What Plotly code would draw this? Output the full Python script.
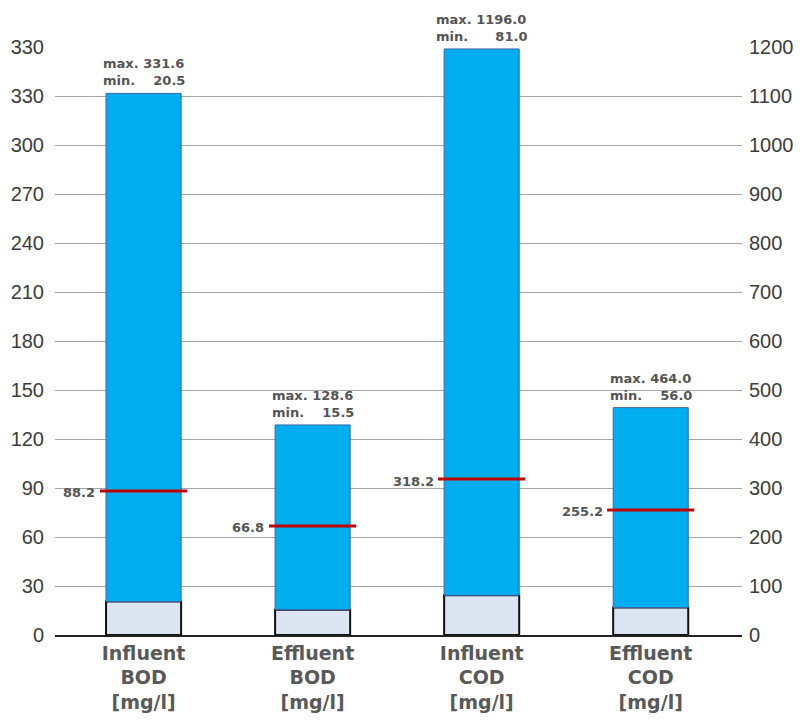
import plotly.graph_objects as go

categories = ["Influent<br>BOD<br>[mg/l]", "Effluent<br>BOD<br>[mg/l]",
              "Influent<br>COD<br>[mg/l]", "Effluent<br>COD<br>[mg/l]"]
axis_of = ["y", "y", "y2", "y2"]
max_vals = [331.6, 128.6, 1196.0, 464.0]
min_vals = [20.5, 15.5, 81.0, 56.0]
avg_vals = [88.2, 66.8, 318.2, 255.2]

left_ticks = [0, 30, 60, 90, 120, 150, 180, 210, 240, 270, 300, 330, 360]
left_ticktext = ["0", "30", "60", "90", "120", "150", "180", "210", "240", "270", "300", "330", "330"]
right_ticks = [0, 100, 200, 300, 400, 500, 600, 700, 800, 900, 1000, 1100, 1200]

BLUE = "#00AEEF"
LIGHT = "#DCE6F2"
RED = "#C00000"
GRAY = "#555555"
FONT = "Liberation Sans, Arial, sans-serif"
WIDE = "DejaVu Sans, Verdana, sans-serif"
NB = "\u00a0"

xs = list(range(len(categories)))
bar_w = 0.444
line_half = 0.258

fig = go.Figure()

for i in xs:
    ax = axis_of[i]
    fig.add_trace(go.Bar(
        x=[i], y=[min_vals[i]], base=[0], width=bar_w, yaxis=ax,
        marker=dict(color=LIGHT, line=dict(color="#111111", width=2)),
        showlegend=False, hoverinfo="skip"))
    fig.add_trace(go.Bar(
        x=[i], y=[max_vals[i] - min_vals[i]], base=[min_vals[i]], width=bar_w, yaxis=ax,
        marker=dict(color=BLUE, line=dict(color="#3A62A8", width=1)),
        showlegend=False, hoverinfo="skip"))
    fig.add_trace(go.Scatter(
        x=[i - line_half, i + line_half], y=[avg_vals[i], avg_vals[i]], yaxis=ax,
        mode="lines", line=dict(color=RED, width=3),
        showlegend=False, hoverinfo="skip"))

annotations = []
for i in xs:
    ax = axis_of[i]
    mx = f"{max_vals[i]:.1f}"
    mn = f"{min_vals[i]:.1f}"
    pad = NB * (2 + 2 * (len(mx) - len(mn)))
    annotations.append(dict(
        x=i - line_half - 0.015, y=avg_vals[i], xref="x", yref=ax,
        text=f"<b>{avg_vals[i]:.1f}</b>", showarrow=False,
        xanchor="right", yanchor="middle", yshift=-2,
        font=dict(family=WIDE, size=13, color=GRAY)))
    annotations.append(dict(
        x=i, y=max_vals[i], xref="x", yref=ax,
        text=f"<b>max.{NB}{mx}</b><br><b>min.{pad}{mn}</b>", showarrow=False, align="left",
        xanchor="center", yanchor="bottom", yshift=3,
        font=dict(family=WIDE, size=13, color=GRAY)))

tick_text_x = ["<b>" + c.replace("<br>", "</b><br><b>") + "</b>" for c in categories]

fig.update_layout(
    width=804, height=721,
    margin=dict(l=55, r=62, t=47, b=86),
    paper_bgcolor="white", plot_bgcolor="white",
    barmode="overlay",
    font=dict(family=FONT, color="#404040"),
    annotations=annotations,
    xaxis=dict(
        range=[-0.524, 3.54], tickmode="array", tickvals=xs, ticktext=tick_text_x,
        tickfont=dict(family=WIDE, size=19, color="#595959"),
        showgrid=False, zeroline=False, showline=True, linecolor="#222222", linewidth=1.5,
        ticks="", ticklabelstandoff=0, automargin=False),
    yaxis=dict(
        range=[0, 360], tickmode="array", tickvals=left_ticks, ticktext=left_ticktext,
        tickfont=dict(family=FONT, size=20, color="#3C3C3C"),
        showgrid=True, gridcolor="#A6A6A6", gridwidth=1, zeroline=False,
        ticks="", ticklabelstandoff=10, showline=False, automargin=False),
    yaxis2=dict(
        range=[0, 1200], overlaying="y", side="right", tickmode="array", tickvals=right_ticks,
        tickfont=dict(family=FONT, size=20, color="#3C3C3C"),
        showgrid=False, zeroline=False, ticks="", ticklabelstandoff=6, showline=False,
        automargin=False),
)

fig.write_html("out.html", config={"displayModeBar": False},
               post_script="document.body.style.margin='0';document.body.style.overflow='hidden';")
